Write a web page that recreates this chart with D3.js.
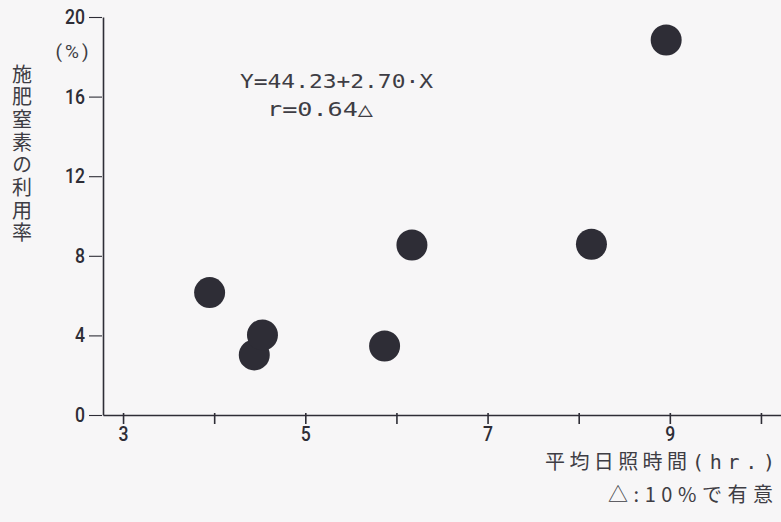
<!DOCTYPE html>
<html>
<head>
<meta charset="utf-8">
<script src="https://cdn.jsdelivr.net/npm/d3@7"></script>
<style>
  html, body { margin: 0; padding: 0; background: #f7f6f7; }
  svg { display: block; }
</style>
</head>
<body>
<svg id="chart" width="781" height="522"></svg>
<script>
// Mean sunshine hours vs. utilisation rate of applied nitrogen
const sunshineHours = [3.95, 4.44, 4.53, 5.87, 6.17, 8.14, 8.96];
const nitrogenUse   = [6.15, 3.02, 4.02, 3.47, 8.54, 8.58, 18.84];

const xTicks = [3, 4, 5, 6, 7, 8, 9, 10];
const xTickLabels = ["3", "", "5", "", "7", "", "9", ""];
const yTicks = [0, 4, 8, 12, 16, 20];
const yTickLabels = ["0", "4", "8", "12", "16", "20"];

const yTitle = "施肥窒素の利用率";
const yUnit = "(%)";
const xTitleMain = "平均日照時間";
const xTitleUnit = "(hr.)";
const sigNote = "△:10%で有意";
const eqLine1 = "Y=44.23+2.70·X";
const eqLine2 = "r=0.64△";

const ink = "#2e2d36";
const textInk = "#3e3d44";
const numFont = "Roboto, 'DejaVu Sans', sans-serif";
const cjkFont = "'Noto Sans CJK JP', sans-serif";
const eqFont = "'DejaVu Sans Mono', 'Liberation Mono', monospace";
const squeeze = 0.88;   // narrow the tick numerals horizontally

const svg = d3.select("#chart");

const x = d3.scaleLinear().domain([2.78, 10.22]).range([103, 781]);
const y = d3.scaleLinear().domain([0, 20]).range([415, 17]);

// y axis
const yTickSize = 14, yPad = 4;
const yAxis = svg.append("g")
  .attr("transform", `translate(${x(2.78)},0)`)
  .call(d3.axisLeft(y)
    .tickValues(yTicks)
    .tickFormat((d, i) => yTickLabels[i])
    .tickSize(yTickSize)
    .tickSizeOuter(0)
    .tickPadding(yPad));
yAxis.select(".domain").attr("stroke", ink).attr("stroke-width", 1.6);
yAxis.selectAll(".tick line").attr("stroke", ink).attr("stroke-width", 1.1).attr("x1", -1);
yAxis.selectAll(".tick text")
  .attr("fill", ink)
  .attr("font-family", numFont)
  .attr("font-weight", 500)
  .attr("font-size", 20)
  .attr("x", -(yTickSize + yPad) / squeeze)
  .attr("transform", `scale(${squeeze},1)`);

// x axis
const xAxis = svg.append("g")
  .attr("transform", `translate(0,${y(0)})`)
  .call(d3.axisBottom(x)
    .tickValues(xTicks)
    .tickFormat((d, i) => xTickLabels[i])
    .tickSize(9)
    .tickSizeOuter(0)
    .tickPadding(3));
xAxis.select(".domain").attr("stroke", ink).attr("stroke-width", 1.6);
xAxis.selectAll(".tick line").attr("stroke", ink).attr("stroke-width", 1.6).attr("y1", -2);
xAxis.selectAll(".tick text")
  .attr("fill", ink)
  .attr("font-family", numFont)
  .attr("font-weight", 500)
  .attr("font-size", 20)
  .attr("transform", `scale(${squeeze},1)`)
  .attr("x", 0);

// data points
svg.append("g")
  .selectAll("circle")
  .data(sunshineHours.map((h, i) => ({ h, v: nitrogenUse[i] })))
  .join("circle")
  .attr("cx", d => x(d.h))
  .attr("cy", d => y(d.v))
  .attr("r", 15.5)
  .attr("fill", ink);

// y axis title, set vertically
svg.append("text")
  .attr("x", 22)
  .attr("y", 64)
  .attr("fill", textInk)
  .attr("font-family", cjkFont)
  .attr("font-size", 20)
  .style("writing-mode", "vertical-rl")
  .style("letter-spacing", "2.7px")
  .text(yTitle);

svg.append("text")
  .attr("x", 72)
  .attr("y", 58)
  .attr("text-anchor", "middle")
  .attr("fill", textInk)
  .attr("font-family", numFont)
  .attr("font-size", 19)
  .attr("textLength", 33)
  .attr("lengthAdjust", "spacing")
  .text(yUnit);

// regression annotation
svg.append("text")
  .attr("x", 240)
  .attr("y", 88)
  .attr("fill", textInk)
  .attr("font-family", eqFont)
  .attr("font-size", 20)
  .attr("textLength", 193)
  .attr("lengthAdjust", "spacingAndGlyphs")
  .text(eqLine1);

svg.append("text")
  .attr("x", 267)
  .attr("y", 116)
  .attr("fill", textInk)
  .attr("font-family", eqFont)
  .attr("font-size", 20)
  .attr("textLength", 106)
  .attr("lengthAdjust", "spacingAndGlyphs")
  .text(eqLine2);

// x axis title and significance note
svg.append("text")
  .attr("x", 545)
  .attr("y", 469)
  .attr("fill", textInk)
  .attr("font-family", cjkFont)
  .attr("font-size", 20)
  .attr("textLength", 142)
  .attr("lengthAdjust", "spacing")
  .text(xTitleMain);

svg.append("text")
  .attr("x", 692)
  .attr("y", 469)
  .attr("fill", textInk)
  .attr("font-family", eqFont)
  .attr("font-size", 20)
  .attr("textLength", 83)
  .attr("lengthAdjust", "spacing")
  .text(xTitleUnit);

svg.append("text")
  .attr("x", 608)
  .attr("y", 502)
  .attr("fill", textInk)
  .attr("font-family", cjkFont)
  .attr("font-size", 20)
  .attr("textLength", 165)
  .attr("lengthAdjust", "spacing")
  .text(sigNote);
</script>
</body>
</html>
